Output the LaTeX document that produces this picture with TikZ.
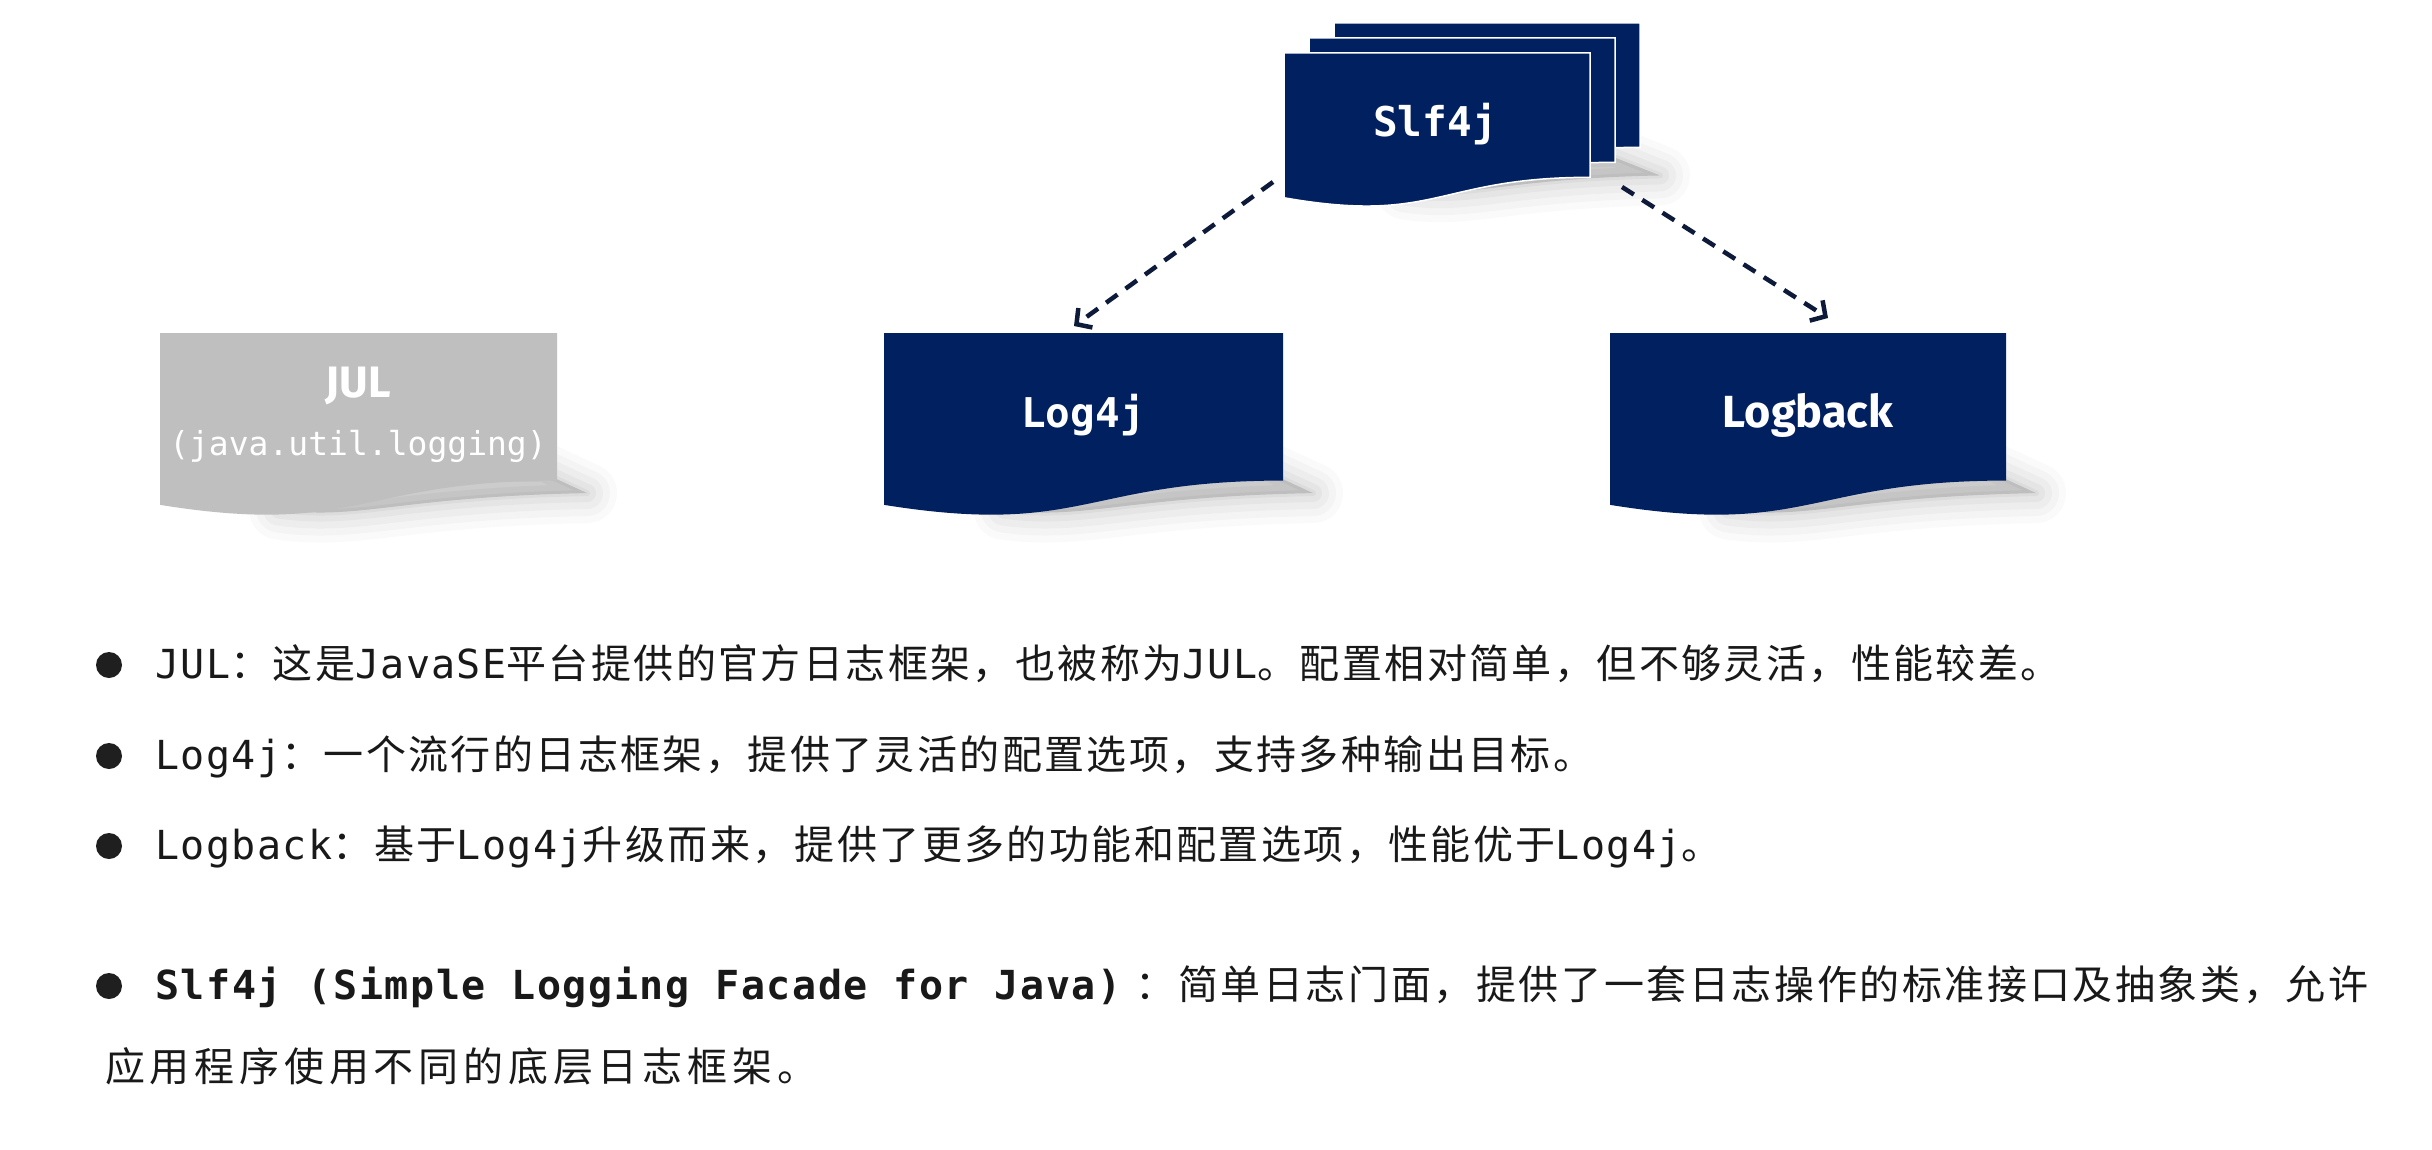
\documentclass[tikz,border=0pt]{standalone}
\usepackage{fontspec}
\usetikzlibrary{arrows.meta}
\newfontfamily\cjk{Noto Sans CJK SC}[LetterSpace=6]
\newfontfamily\cjkm{Noto Sans CJK SC}[LetterSpace=6.5]
\newfontfamily\cjkw{Noto Sans CJK SC}[LetterSpace=12]
\newfontfamily\mono{DejaVu Sans Mono}[LetterSpace=3.5]
\newfontfamily\monob{DejaVu Sans Mono}[LetterSpace=4]
\newfontfamily\monoplain{DejaVu Sans Mono}
\newfontfamily\fira{Fira Sans}
\definecolor{navy}{HTML}{002060}
\definecolor{jgrey}{HTML}{BFBFBF}
\definecolor{arrowc}{HTML}{0E1A3A}
\newcommand\docpath[4]{(#1,#2) -- ({#1+#3},#2) -- ({#1+#3},{#2+0.802*#4}) .. controls ({#1+0.5*#3},{#2+0.802*#4}) and ({#1+0.5*#3},{#2+1.1075*#4}) .. (#1,{#2+0.934*#4}) -- cycle}
\newcommand\docshadow[4]{%
  \foreach \lw/\op in {60/0.018,46/0.022,32/0.027,18/0.032,6/0.036}{%
    \filldraw[black,opacity=\op,line width=\lw pt,line join=round]
      ({#1+0.3*#3},{#2+0.76*#4}) -- ({#1+#3-14},{#2+0.76*#4}) -- ({#1+#3+30},{#2+0.87*#4})
      .. controls ({#1+0.6*#3},{#2+0.89*#4}) and ({#1+0.5*#3},{#2+1.02*#4}) .. ({#1+0.3*#3},{#2+0.96*#4}) -- cycle;}}
\begin{document}
\begin{tikzpicture}[x=1pt,y=-1pt,
  docfill/.style={fill=navy},
  docedge/.style={fill=navy,draw=white,line width=1.5pt},
  boxlabel/.style={text=white,inner sep=0pt},
  dasharrow/.style={draw=arrowc,line width=4.5pt,dash pattern=on 14pt off 10pt,
    -{Straight Barb[length=11pt,width=24pt,line width=4.5pt]}},
  bullet/.style={circle,fill=black!88,inner sep=0pt,minimum size=26pt},
  line/.style={anchor=base west,inner sep=0pt,text=black!90}]
\useasboundingbox[fill=white] (0,0) rectangle (2432,1150);

% shadows
\docshadow{160}{333}{397}{184}
\docshadow{884}{333}{399}{184}
\docshadow{1610}{333}{396}{184}
\docshadow{1310}{38}{320}{158}

% JUL
\fill[jgrey] \docpath{160}{333}{397}{184};
\node[boxlabel,font=\fira\bfseries\fontsize{44}{50}\selectfont] (jul) at (358,386) {JUL};
\node[boxlabel,font=\monoplain\fontsize{33}{38}\selectfont] (julsub) at (358,446) {(java.util.logging)};

% Log4j
\fill[docfill] \docpath{884}{333}{399}{184};
\node[boxlabel,font=\monoplain\bfseries\fontsize{41}{46}\selectfont] (log4j) at (1083,415) {Log4j};

% Logback
\fill[docfill] \docpath{1610}{333}{396}{184};
\node[boxlabel,font=\fira\bfseries\fontsize{45}{50}\selectfont] (logback) at (1808,415) {Logback};

% Slf4j stack
\filldraw[docedge] \docpath{1334}{23}{306}{155};
\filldraw[docedge] \docpath{1309}{38}{306}{155};
\filldraw[docedge] \docpath{1284}{53}{306}{155};
\node[boxlabel,font=\monoplain\bfseries\fontsize{41}{46}\selectfont] (slf4j) at (1435,124) {Slf4j};

% connectors
\coordinate (slfL) at (1273,182);
\coordinate (slfR) at (1622,187);
\coordinate (log4jIn) at (1074,326);
\coordinate (logbackIn) at (1828,318);
\draw[dasharrow] (slfL) -- (log4jIn);
\draw[dasharrow] (slfR) -- (logbackIn);

% bullet list
\node[bullet] (b1) at (109,665) {};
\node[bullet] (b2) at (109,756) {};
\node[bullet] (b3) at (109,846) {};
\node[bullet] (b4) at (109,986) {};

\node[line] (t1) at (155,678) {\fontsize{40}{48}\selectfont\mono JUL\cjk ：这是\mono JavaSE\cjk 平台提供的官方日志框架，也被称为\mono JUL\cjk 。配置相对简单，但不够灵活，性能较差。};
\node[line] (t2) at (155,769) {\fontsize{40}{48}\selectfont\mono Log4j\cjk ：一个流行的日志框架，提供了灵活的配置选项，支持多种输出目标。};
\node[line] (t3) at (155,859) {\fontsize{40}{48}\selectfont\mono Logback\cjk ：基于\mono Log4j\cjk 升级而来，提供了更多的功能和配置选项，性能优于\mono Log4j\cjk 。};
\node[line] (t4) at (155,999) {\fontsize{40}{48}\selectfont\monob\bfseries Slf4j (Simple Logging Facade for Java)\hspace{14pt}\cjkm\mdseries ：简单日志门面，提供了一套日志操作的标准接口及抽象类，允许};
\node[line] (t5) at (105,1081) {\fontsize{40}{48}\selectfont\cjkw 应用程序使用不同的底层日志框架。};
\end{tikzpicture}
\end{document}
